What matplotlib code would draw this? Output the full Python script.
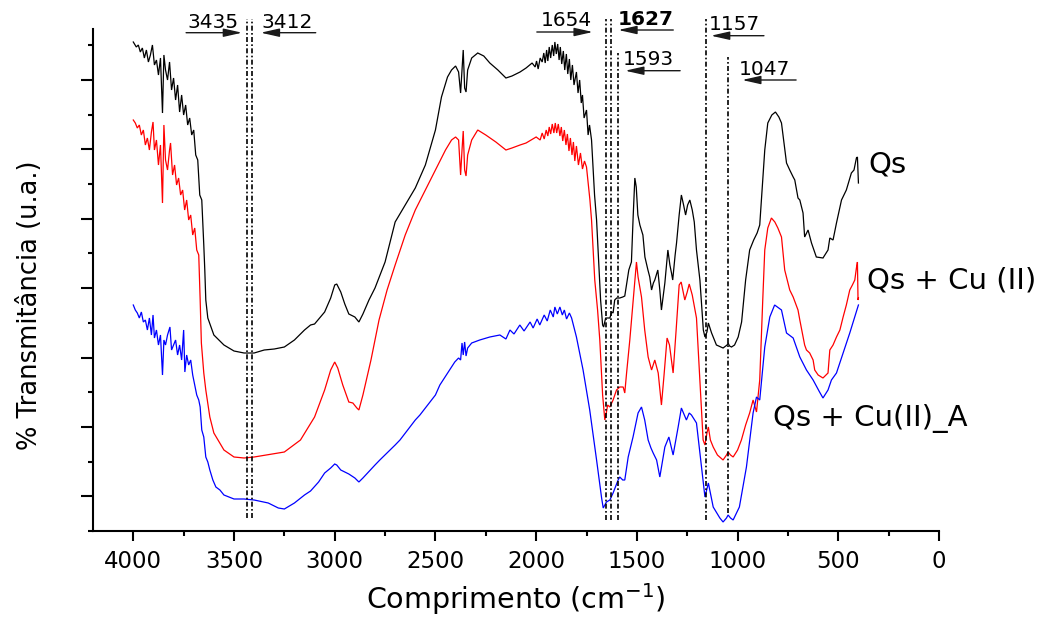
import matplotlib
matplotlib.use("Agg")
import matplotlib.pyplot as plt
from matplotlib.ticker import MultipleLocator, FixedLocator, NullFormatter

plt.rcParams['font.family'] = ['DejaVu Sans']
plt.rcParams['mathtext.fontset'] = 'dejavusans'

# ---------------- FTIR spectra (wavenumber in cm-1, transmittance in u.a.) ----------------
qs_wn = [4000, 3985, 3975, 3965, 3955, 3945, 3935, 3925, 3915, 3905, 3895, 3885, 3875, 3865,
         3855, 3848, 3840, 3830, 3820, 3810, 3800, 3790, 3780, 3770, 3760, 3750, 3740, 3730,
         3720, 3710, 3700, 3690, 3680, 3670, 3660, 3650, 3645, 3640, 3630, 3600, 3550, 3500,
         3450, 3400, 3350, 3300, 3250, 3200, 3150, 3120, 3100, 3050, 3020, 3000, 2990, 2970,
         2950, 2930, 2900, 2880, 2860, 2830, 2800, 2750, 2700, 2650, 2600, 2550, 2500, 2470,
         2440, 2420, 2400, 2385, 2375, 2368, 2362, 2355, 2348, 2340, 2320, 2290, 2260, 2230,
         2190, 2150, 2120, 2080, 2050, 2020, 2005, 1998, 1990, 1980, 1970, 1962, 1955, 1948,
         1942, 1935, 1928, 1920, 1913, 1907, 1900, 1893, 1886, 1880, 1873, 1865, 1858, 1850,
         1843, 1835, 1828, 1820, 1812, 1800, 1792, 1784, 1776, 1770, 1762, 1750, 1742, 1735,
         1725, 1710, 1700, 1690, 1680, 1670, 1665, 1655, 1645, 1634, 1625, 1618, 1610, 1600,
         1585, 1570, 1560, 1550, 1540, 1527, 1518, 1510, 1503, 1495, 1485, 1470, 1460, 1445,
         1436, 1427, 1418, 1411, 1396, 1386, 1378, 1361, 1346, 1336, 1328, 1322, 1310, 1303,
         1290, 1279, 1268, 1258, 1248, 1237, 1225, 1215, 1204, 1187, 1170, 1162, 1152, 1145,
         1137, 1129, 1105, 1072, 1052, 1047, 1040, 1030, 1015, 997, 980, 960, 940, 920, 903,
         890, 875, 865, 850, 830, 812, 795, 782, 757, 741, 724, 716, 700, 691, 675, 667, 650,
         633, 609, 576, 551, 542, 526, 509, 484, 460, 435, 422, 410, 405, 400]
qs_t = [489, 484, 486, 479, 483, 473, 481, 469, 476, 486, 466, 471, 456, 473,
        418, 476, 461, 451, 469, 441, 453, 431, 446, 419, 436, 416, 426, 406,
        413, 396, 401, 376, 371, 336, 331, 286, 261, 231, 213, 196, 186, 180,
        178, 178, 181, 182, 184, 191, 201, 206, 207, 219, 233, 246, 247, 239,
        227, 217, 214, 209, 217, 231, 243, 269, 309, 326, 343, 366, 401, 434,
        454, 461, 465, 459, 438, 461, 481, 443, 439, 461, 473, 478, 475, 468,
        461, 453, 455, 459, 463, 468, 464, 470, 462, 473, 469, 478, 468, 481,
        470, 484, 473, 486, 475, 489, 477, 487, 471, 484, 467, 480, 461, 477,
        457, 472, 451, 466, 446, 459, 438, 451, 428, 436, 413, 421, 396, 406,
        391, 336, 311, 271, 231, 206, 204, 213, 213, 213, 219, 218, 231, 233,
        233, 234, 235, 248, 261, 269, 316, 353, 344, 316, 306, 296, 274, 261,
        254, 241, 248, 251, 261, 241, 221, 248, 281, 266, 258, 251, 276, 288,
        316, 336, 326, 316, 326, 331, 321, 309, 281, 251, 201, 194, 199, 208,
        203, 198, 186, 183, 186, 188, 185, 184, 186, 194, 209, 251, 281, 291, 298,
        306, 351, 381, 408, 416, 419, 414, 408, 368, 361, 354, 351, 333, 331, 318, 294, 301,
        288, 274, 273, 281, 293, 291, 308, 331, 341, 358, 361, 373, 374, 348]

cu_wn = [4000, 3990, 3980, 3970, 3960, 3950, 3940, 3930, 3920, 3910, 3902, 3895, 3885, 3875,
         3865, 3855, 3848, 3840, 3830, 3820, 3815, 3805, 3795, 3785, 3775, 3765, 3755, 3745,
         3735, 3725, 3715, 3705, 3695, 3685, 3675, 3668, 3662, 3650, 3640, 3620, 3600, 3550,
         3500, 3450, 3400, 3340, 3250, 3170, 3100, 3050, 3020, 3000, 2985, 2960, 2930, 2910,
         2890, 2880, 2860, 2820, 2780, 2740, 2700, 2650, 2600, 2550, 2500, 2450, 2420, 2400,
         2385, 2375, 2368, 2362, 2355, 2348, 2340, 2320, 2290, 2250, 2200, 2150, 2120, 2080,
         2050, 2000, 1980, 1970, 1960, 1950, 1942, 1935, 1928, 1920, 1912, 1905, 1898, 1890,
         1882, 1875, 1868, 1860, 1852, 1845, 1837, 1830, 1822, 1815, 1808, 1800, 1790, 1780,
         1770, 1760, 1750, 1733, 1725, 1709, 1695, 1684, 1670, 1659, 1651, 1645, 1634, 1618,
         1601, 1585, 1568, 1560, 1551, 1535, 1518, 1502, 1494, 1477, 1461, 1444, 1427, 1411,
         1394, 1378, 1365, 1350, 1338, 1320, 1305, 1290, 1280, 1262, 1250, 1240, 1225, 1204,
         1190, 1171, 1162, 1152, 1145, 1135, 1121, 1100, 1072, 1055, 1047, 1035, 1022, 1000,
         981, 960, 940, 923, 906, 890, 875, 865, 850, 832, 815, 800, 782, 766, 741, 724, 700,
         691, 667, 658, 642, 625, 617, 600, 576, 551, 542, 526, 509, 492, 476, 460, 443, 430,
         418, 410, 405, 402, 400]
cu_t = [411, 408, 403, 406, 396, 401, 386, 393, 381, 399, 409, 381, 391, 366,
        386, 328, 406, 371, 361, 381, 388, 356, 366, 346, 353, 336, 341, 321,
        331, 311, 316, 296, 303, 281, 276, 231, 188, 158, 141, 114, 98, 81,
        74, 73, 74, 76, 79, 91, 114, 141, 161, 169, 163, 146, 129, 128,
        123, 121, 136, 171, 211, 241, 266, 296, 321, 341, 361, 381, 391, 394,
        391, 356, 381, 400, 361, 355, 376, 391, 401, 396, 389, 381, 383, 386,
        388, 394, 391, 398, 392, 401, 395, 404, 397, 407, 398, 408, 398, 407,
        395, 404, 390, 401, 386, 397, 380, 393, 376, 389, 370, 385, 366, 378,
        362, 370, 364, 331, 311, 251, 221, 191, 136, 111, 119, 126, 124, 131,
        141, 144, 144, 138, 158, 191, 231, 269, 254, 234, 201, 174, 161, 171,
        158, 126, 156, 193, 186, 158, 201, 246, 249, 231, 239, 247, 236, 213,
        161, 91, 86, 98, 104, 91, 84, 76, 71, 76, 79, 76, 74, 81,
        91, 106, 118, 131, 119, 151, 231, 281, 303, 313, 309, 303, 294, 261, 241, 234, 221,
        211, 186, 181, 178, 171, 161, 156, 153, 158, 181, 186, 194, 201, 214, 226, 241, 246,
        251, 263, 269, 231, 233]

cua_wn = [4000, 3990, 3980, 3970, 3960, 3950, 3940, 3930, 3920, 3910, 3902, 3895, 3885, 3875,
          3865, 3855, 3848, 3840, 3830, 3818, 3810, 3800, 3790, 3780, 3770, 3760, 3750, 3744,
          3735, 3725, 3715, 3705, 3695, 3685, 3675, 3668, 3660, 3650, 3640, 3630, 3620, 3605,
          3590, 3570, 3550, 3500, 3450, 3400, 3330, 3280, 3250, 3200, 3150, 3120, 3080, 3050,
          3020, 3000, 2990, 2970, 2950, 2930, 2900, 2880, 2860, 2800, 2776, 2700, 2676, 2600,
          2577, 2500, 2478, 2430, 2404, 2385, 2375, 2368, 2362, 2355, 2348, 2340, 2320, 2280,
          2230, 2180, 2150, 2130, 2110, 2081, 2060, 2030, 2015, 1995, 1982, 1960, 1945, 1930,
          1915, 1907, 1895, 1882, 1870, 1860, 1849, 1835, 1824, 1800, 1767, 1734, 1700, 1675,
          1667, 1651, 1634, 1618, 1593, 1585, 1570, 1560, 1543, 1519, 1494, 1477, 1461, 1444,
          1430, 1419, 1402, 1386, 1361, 1341, 1320, 1295, 1279, 1254, 1240, 1229, 1204, 1179,
          1162, 1145, 1121, 1088, 1072, 1055, 1047, 1035, 1022, 991, 956, 923, 906, 890, 865,
          840, 816, 782, 757, 724, 691, 658, 625, 593, 576, 551, 534, 509, 476, 443, 420, 405,
          400]
cua_t = [226, 221, 218, 213, 219, 209, 211, 201, 213, 196, 216, 193, 201, 186,
         196, 156, 191, 186, 196, 204, 181, 186, 191, 176, 186, 171, 201, 159,
         176, 166, 171, 156, 146, 136, 131, 124, 101, 94, 74, 69, 61, 51,
         44, 41, 36, 32, 32, 31, 28, 23, 22, 28, 36, 40, 49, 58,
         63, 67, 66, 61, 59, 57, 53, 49, 53, 66, 71, 86, 91, 111,
         116, 136, 146, 161, 169, 173, 171, 188, 176, 189, 175, 183, 188, 191,
         194, 196, 192, 201, 197, 206, 200, 209, 203, 212, 206, 216, 210, 221,
         214, 224, 217, 224, 216, 221, 212, 218, 213, 194, 161, 121, 71, 33,
         23, 29, 31, 38, 51, 54, 51, 51, 74, 94, 118, 124, 111, 91,
         83, 78, 71, 54, 84, 94, 76, 104, 123, 111, 118, 116, 108, 64,
         34, 48, 24, 13, 9, 13, 16, 13, 11, 24, 64, 118, 134, 131, 184,
         214, 226, 221, 198, 193, 174, 161, 151, 139, 133, 141, 151, 158, 178, 198, 213, 223,
         226]

series_wn = [qs_wn, cu_wn, cua_wn]
series_t = [qs_t, cu_t, cua_t]
series_names = ["Qs", "Qs + Cu (II)", "Qs + Cu(II)_A"]
series_colors = ["black", "red", "blue"]

# band positions marked on the spectra (cm-1)
band_wn = [3435, 3412, 1654, 1627, 1593, 1157, 1047]

x_ticks = [4000, 3500, 3000, 2500, 2000, 1500, 1000, 500, 0]

# ---------------- figure ----------------
W, H = 1040, 618
fig = plt.figure(figsize=(W / 100, H / 100), dpi=100)
AX_L, AX_R, AX_T, AX_B = 93, 939, 29, 531
ax = fig.add_axes([AX_L / W, (H - AX_B) / H, (AX_R - AX_L) / W, (AX_B - AX_T) / H])
X_MAX = 4200
ax.set_xlim(X_MAX, 0)
ax.set_ylim(0, AX_B - AX_T)

WN_PER_PX = X_MAX / (AX_R - AX_L)


def wn_of(px):
    return X_MAX - (px - AX_L) * WN_PER_PX


def px_of(wn):
    return AX_L + (X_MAX - wn) / WN_PER_PX


def val_of(py):
    return AX_B - py


for wn, t, c in zip(series_wn, series_t, series_colors):
    ax.plot(wn, t, color=c, lw=0.9, solid_joinstyle='miter')

# axes styling
for s in ('top', 'right'):
    ax.spines[s].set_visible(False)
for s in ('left', 'bottom'):
    ax.spines[s].set_linewidth(1.5)

ax.xaxis.set_major_locator(FixedLocator(x_ticks))
ax.xaxis.set_minor_locator(MultipleLocator(250))
ax.set_xticklabels([str(v) for v in x_ticks])
ax.yaxis.set_major_locator(MultipleLocator(69.4, offset=34.7))
ax.yaxis.set_minor_locator(MultipleLocator(69.4))
ax.yaxis.set_major_formatter(NullFormatter())

ax.tick_params(axis='x', which='major', direction='out', length=7.5, width=1.5,
               labelsize=16.5, pad=6)
ax.tick_params(axis='x', which='minor', direction='out', length=3.5, width=1.5)
ax.tick_params(axis='y', which='major', direction='out', length=8.5, width=1.5)
ax.tick_params(axis='y', which='minor', direction='out', length=3.6, width=1.5)

ax.set_xlabel('Comprimento (cm$^{-1}$)', fontsize=20.5)
ax.xaxis.label.set_va('baseline')
ax.xaxis.set_label_coords(0.5, (AX_B - 609) / (AX_B - AX_T))
ax.set_ylabel('% Transmitância (u.a.)', fontsize=18.5)
ax.yaxis.label.set_va('baseline')
ax.yaxis.set_label_coords((37.5 - AX_L) / (AX_R - AX_L), (AX_B - 305) / (AX_B - AX_T))

# series names
name_left_px = [868, 867, 773]
name_base_px = [172, 289, 426]
for name, lx, by in zip(series_names, name_left_px, name_base_px):
    ax.text(wn_of(lx), val_of(by), name, fontsize=21, ha='left', va='baseline',
            clip_on=False)

# band markers: dash-dot line, arrow and value label
# side -1: arrow left of the line pointing right; +1: arrow right of the line pointing left
band_side = [-1, 1, -1, 1, 1, 1, 1]
band_gap = [5, 9, 13, 7, 7, 5, 14]
band_len = [56, 55, 56, 55, 55, 53, 54]
band_arrow_y = [32.7, 32.7, 32, 30, 70.7, 35.7, 80]
band_text_y = [28, 28, 26, 25, 65, 30, 75]
band_text_dx = [1, 1, 4, -1, -2, -2, -3]
band_top = [19, 19, 19, 19, 53, 19, 57]
band_bottom = [518, 518, 520, 520, 520, 520, 513]
band_bold = [False, False, False, True, False, False, False]

for wn, side, gap, ln, ay, ty, tdx, top, bot, bold in zip(
        band_wn, band_side, band_gap, band_len, band_arrow_y, band_text_y,
        band_text_dx, band_top, band_bottom, band_bold):
    ax.plot([wn, wn], [val_of(bot), val_of(top)], color='black', lw=1.2,
            dashes=(3, 1.4, 1, 1.4), clip_on=False)
    lpx = px_of(wn)
    if side < 0:
        tip = lpx - gap
        tail = tip - ln
        left = tail
    else:
        tip = lpx + gap
        tail = tip + ln
        left = tip
    ax.annotate('', xy=(wn_of(tip), val_of(ay)), xytext=(wn_of(tail), val_of(ay)),
                arrowprops=dict(arrowstyle='-|>,head_length=0.8,head_width=0.18',
                                mutation_scale=14, color='#1a1a1a', lw=1.0,
                                shrinkA=0, shrinkB=0),
                annotation_clip=False)
    ax.text(wn_of(left + tdx), val_of(ty), str(wn), fontsize=14.5, ha='left',
            va='baseline', fontweight='bold' if bold else 'normal', clip_on=False)

fig.savefig('out.png', dpi=100)
